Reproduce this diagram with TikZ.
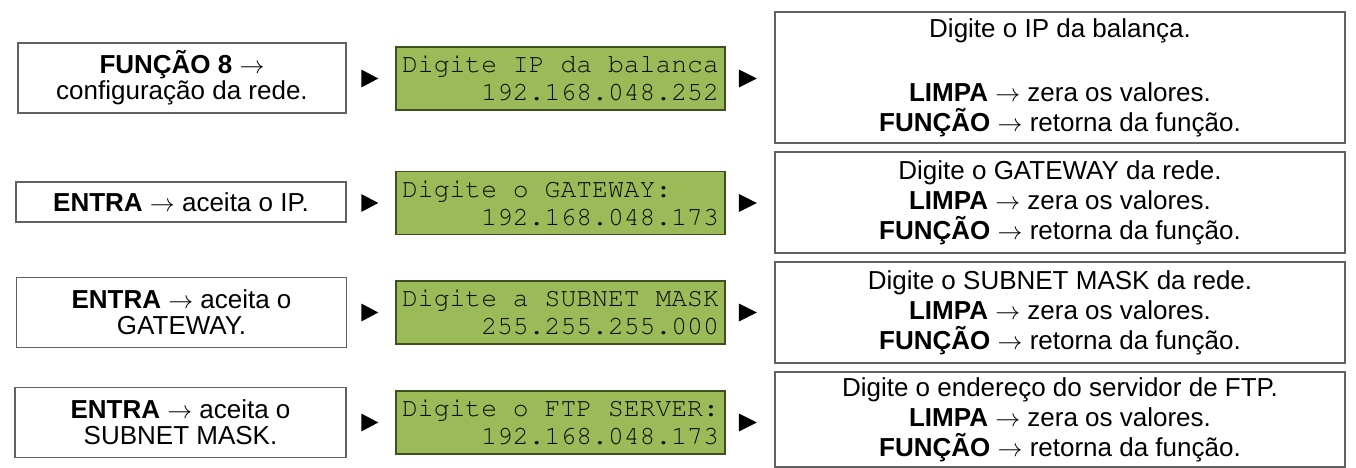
\documentclass[tikz,border=0pt]{standalone}
\usepackage[T1]{fontenc}
\usepackage{fontspec}
\setmainfont{Liberation Sans}
\newcommand\lcdfont{\fontencoding{T1}\fontfamily{pcr}\fontseries{m}\fontshape{n}}
\usetikzlibrary{calc}
\definecolor{lcdgreen}{HTML}{9BBB59}
\definecolor{lcdborder}{HTML}{3F4F22}
\definecolor{lcdtextcol}{HTML}{0A0A0A}
\newcommand\lcdtext[2]{\makebox[316.8pt][l]{#1}\\\makebox[316.8pt][r]{#2}}
\newcommand\keysline[1]{#1\\\textbf{LIMPA} $\rightarrow$ zera os valores.\\\textbf{FUNÇÃO} $\rightarrow$ retorna da função.}
\begin{document}
\begin{tikzpicture}[x=1pt,y=-1pt,
  box/.style={draw=black!62, line width=1.3pt, fill=white, inner sep=0pt, align=center,
    font=\fontsize{26}{26}\selectfont},
  lcdbox/.style={draw=lcdborder, fill=lcdgreen, line width=1.5pt, inner sep=0pt,
    minimum width=329pt, minimum height=63pt, align=left, text=lcdtextcol,
    font=\lcdfont\fontsize{26.4}{28.3}\selectfont},
  info/.style={draw=black!62, line width=1.3pt, fill=white, inner sep=0pt, align=center,
    minimum width=570pt, font=\fontsize{26}{30}\selectfont},
  tri/.style={fill=black}]
\useasboundingbox (0,0) rectangle (1356,468);

% left boxes
\node[box, minimum width=328pt, minimum height=70pt] (f8) at (182,78) {\textbf{FUNÇÃO 8} $\rightarrow$\\configuração da rede.};
\node[box, minimum width=330pt, minimum height=40pt] (e1) at (181,202) {\textbf{ENTRA} $\rightarrow$ aceita o IP.};
\node[box, minimum width=330pt, minimum height=70pt] (e2) at (181.5,312.5) {\textbf{ENTRA} $\rightarrow$ aceita o\\GATEWAY.};
\node[box, minimum width=331pt, minimum height=70pt] (e3) at (180.5,422.5) {\textbf{ENTRA} $\rightarrow$ aceita o\\SUBNET MASK.};

% LCD displays
\node[lcdbox] (d1) at (560.5,78.5) {\lcdtext{Digite IP da balanca}{192.168.048.252}};
\node[lcdbox] (d2) at (560.5,203) {\lcdtext{Digite o GATEWAY:}{192.168.048.173}};
\node[lcdbox] (d3) at (560.5,312.5) {\lcdtext{Digite a SUBNET MASK}{255.255.255.000}};
\node[lcdbox] (d4) at (560.5,422.5) {\lcdtext{Digite o FTP SERVER:}{192.168.048.173}};

% right boxes
\node[info, minimum height=131pt] (r1) at (1060,77.5) {Digite o IP da balança.\\[34pt]\textbf{LIMPA} $\rightarrow$ zera os valores.\\\textbf{FUNÇÃO} $\rightarrow$ retorna da função.};
\node[info, minimum height=101pt] (r2) at (1060,202.5) {\keysline{Digite o GATEWAY da rede.}};
\node[info, minimum height=101pt] (r3) at (1060,312.5) {\keysline{Digite o SUBNET MASK da rede.}};
\node[info, minimum height=95pt] (r4) at (1060,419.5) {\keysline{Digite o endereço do servidor de FTP.}};

% triangles
\foreach \d in {d1,d2,d3,d4}{
  \fill[tri] ($(\d.west)+(-34,-9)$) -- ($(\d.west)+(-34,9)$) -- ($(\d.west)+(-17,0)$) -- cycle;
  \fill[tri] ($(\d.east)+(13,-9)$) -- ($(\d.east)+(13,9)$) -- ($(\d.east)+(31,0)$) -- cycle;
}
\end{tikzpicture}
\end{document}
